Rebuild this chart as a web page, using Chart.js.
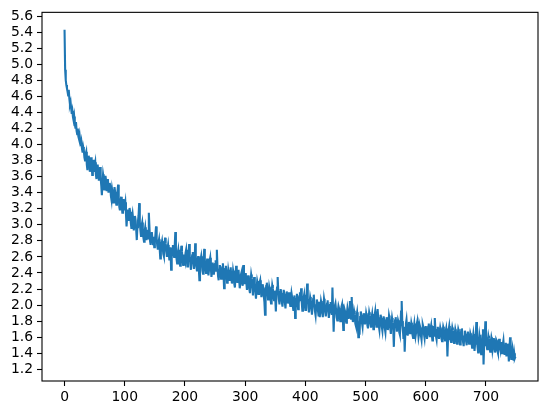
<!DOCTYPE html>
<html>
<head>
<meta charset="utf-8">
<script src="https://cdn.jsdelivr.net/npm/chart.js@4"></script>
<style>
  html, body { margin: 0; padding: 0; background: #fff; }
  canvas { display: block; }
</style>
</head>
<body>
<canvas id="chart" width="547" height="415"></canvas>
<script>
// loss values, one per step (0..749)
const lossValues = [
  5.43, 4.93, 4.80, 4.74, 4.70, 4.66, 4.61, 4.68, 4.57, 4.50, 4.53, 4.45, 4.38, 4.42, 4.34, 4.30, 4.35, 4.26, 4.21, 4.28, 4.17, 4.13, 4.20, 4.10, 4.07,
  4.12, 4.05, 3.98, 4.03, 3.95, 3.90, 3.97, 3.93, 3.84, 3.80, 3.88, 3.91, 3.75, 3.68, 3.79, 3.86, 3.82, 3.66, 3.72, 3.84, 3.77, 3.62, 3.70, 3.81, 3.67,
  3.74, 3.78, 3.63, 3.57, 3.69, 3.75, 3.66, 3.55, 3.60, 3.72, 3.58, 3.49, 3.37, 3.52, 3.63, 3.58, 3.44, 3.50, 3.61, 3.55, 3.42, 3.47, 3.57, 3.40, 3.46,
  3.52, 3.48, 3.36, 3.31, 3.44, 3.39, 3.28, 3.35, 3.47, 3.41, 3.30, 3.25, 3.37, 3.42, 3.50, 3.33, 3.22, 3.18, 3.29, 3.35, 3.24, 3.15, 3.26, 3.32, 3.19,
  3.23, 3.28, 3.14, 2.98, 3.10, 3.19, 3.13, 3.05, 3.21, 3.16, 3.03, 2.96, 3.09, 3.14, 3.07, 2.93, 3.01, 3.11, 3.06, 2.94, 2.81, 2.97, 3.05, 3.12, 3.27,
  3.04, 2.93, 2.86, 2.99, 3.03, 2.91, 2.84, 2.79, 2.92, 2.97, 2.88, 2.81, 2.90, 2.94, 2.83, 3.15, 2.98, 2.80, 2.75, 2.87, 2.91, 2.82, 2.76, 2.85, 2.72,
  2.79, 2.88, 2.98, 2.83, 2.74, 2.69, 2.78, 2.82, 2.71, 2.58, 2.66, 2.76, 2.80, 2.73, 2.64, 2.61, 2.72, 2.84, 2.77, 2.68, 2.60, 2.70, 2.75, 2.66, 2.57,
  2.63, 2.72, 2.44, 2.59, 2.70, 2.75, 2.66, 2.60, 2.73, 2.91, 2.71, 2.58, 2.52, 2.64, 2.69, 2.61, 2.53, 2.49, 2.62, 2.74, 2.67, 2.56, 2.50, 2.63, 2.58,
  2.55, 2.65, 2.69, 2.57, 2.48, 2.54, 2.63, 2.76, 2.59, 2.50, 2.44, 2.56, 2.62, 2.66, 2.53, 2.45, 2.52, 2.77, 2.60, 2.49, 2.42, 2.55, 2.61, 2.47, 2.31,
  2.49, 2.57, 2.61, 2.52, 2.43, 2.39, 2.54, 2.70, 2.56, 2.46, 2.40, 2.51, 2.58, 2.49, 2.37, 2.44, 2.55, 2.59, 2.47, 2.35, 2.42, 2.53, 2.48, 2.38, 2.45,
  2.51, 2.56, 2.43, 2.69, 2.48, 2.36, 2.31, 2.44, 2.50, 2.41, 2.33, 2.38, 2.47, 2.52, 2.40, 2.21, 2.35, 2.45, 2.49, 2.37, 2.28, 2.34, 2.44, 2.39, 2.30,
  2.42, 2.47, 2.35, 2.27, 2.31, 2.43, 2.38, 2.26, 2.22, 2.36, 2.49, 2.40, 2.29, 2.34, 2.44, 2.32, 2.21, 2.27, 2.38, 2.41, 2.30, 2.24, 2.50, 2.33, 2.26,
  2.35, 2.40, 2.28, 2.19, 2.25, 2.37, 2.31, 2.20, 2.15, 2.29, 2.38, 2.33, 2.22, 2.12, 2.27, 2.35, 2.24, 2.16, 2.08, 2.21, 2.30, 2.26, 2.14, 2.19, 2.28,
  2.31, 2.20, 2.10, 2.16, 2.26, 2.22, 2.11, 2.04, 1.88, 2.15, 2.24, 2.28, 2.17, 2.07, 2.13, 2.23, 2.19, 2.09, 2.02, 2.16, 2.25, 2.21, 2.10, 2.06, 2.18,
  2.09, 1.92, 2.14, 2.22, 2.35, 2.18, 2.07, 2.01, 2.13, 2.20, 2.15, 2.04, 1.98, 2.10, 2.19, 2.14, 2.03, 1.96, 2.09, 2.17, 2.12, 2.02, 2.08, 2.16, 2.05,
  1.99, 2.07, 2.15, 2.10, 2.00, 1.94, 2.06, 2.12, 1.84, 1.97, 2.08, 2.14, 2.03, 1.95, 2.02, 2.11, 2.16, 2.05, 2.21, 2.04, 1.93, 1.98, 2.09, 2.13, 2.00,
  1.94, 2.05, 2.11, 2.27, 2.08, 1.97, 1.91, 2.02, 2.10, 2.06, 1.95, 1.88, 2.00, 2.08, 2.13, 2.01, 1.92, 1.87, 1.99, 2.07, 2.03, 1.93, 1.86, 2.04, 1.85,
  1.96, 2.05, 2.01, 1.90, 1.85, 1.97, 2.08, 2.03, 1.92, 1.86, 1.95, 2.02, 2.06, 1.94, 1.84, 1.91, 2.00, 2.04, 1.93, 1.88, 2.22, 1.95, 1.67, 1.90, 1.99,
  2.02, 1.94, 1.85, 1.81, 1.93, 1.99, 1.96, 1.86, 1.80, 1.91, 1.98, 2.01, 1.89, 1.69, 1.84, 1.95, 1.92, 1.82, 1.78, 1.90, 1.97, 1.93, 1.83, 1.88, 2.05,
  1.92, 1.83, 2.10, 1.87, 1.79, 1.84, 1.93, 1.89, 1.77, 1.74, 1.86, 1.91, 1.82, 1.60, 1.80, 1.63, 1.85, 1.92, 1.88, 1.78, 1.73, 1.84, 1.90, 1.86, 1.76,
  1.81, 1.90, 1.86, 1.75, 1.71, 1.83, 1.91, 1.87, 1.77, 1.72, 1.84, 1.89, 1.80, 1.70, 1.76, 1.87, 1.92, 1.79, 1.73, 1.82, 1.95, 1.85, 1.74, 1.69, 1.81,
  1.88, 1.84, 1.73, 1.68, 1.79, 1.86, 1.82, 1.71, 1.66, 1.78, 1.85, 1.80, 1.69, 1.75, 1.87, 1.83, 1.72, 1.64, 1.76, 1.84, 1.79, 1.70, 1.48, 1.74, 1.81,
  1.85, 1.76, 1.67, 1.72, 1.81, 1.78, 1.66, 1.63, 1.75, 1.92, 2.05, 1.80, 1.69, 1.58, 1.73, 1.42, 1.64, 1.77, 1.82, 1.71, 1.62, 1.68, 1.79, 1.74, 1.65,
  1.70, 1.78, 1.74, 1.63, 1.59, 1.71, 1.77, 1.68, 1.61, 1.66, 1.76, 1.80, 1.69, 1.60, 1.65, 1.75, 1.72, 1.62, 1.57, 1.69, 1.76, 1.73, 1.64, 1.59, 1.70,
  1.74, 1.67, 1.58, 1.63, 1.73, 1.77, 1.66, 1.60, 1.71, 1.75, 1.64, 1.56, 1.68, 1.74, 1.62, 1.84, 1.70, 1.61, 1.57, 1.69, 1.73, 1.65, 1.58, 1.66, 1.72,
  1.68, 1.59, 1.55, 1.66, 1.73, 1.70, 1.60, 1.56, 1.67, 1.71, 1.62, 1.36, 1.58, 1.69, 1.74, 1.65, 1.57, 1.54, 1.66, 1.72, 1.68, 1.59, 1.53, 1.64, 1.70,
  1.66, 1.57, 1.52, 1.63, 1.70, 1.67, 1.58, 1.51, 1.62, 1.69, 1.71, 1.60, 1.54, 1.49, 1.61, 1.68, 1.64, 1.55, 1.50, 1.63, 1.67, 1.59, 1.52, 1.57, 1.65,
  1.62, 1.54, 1.47, 1.58, 1.64, 1.56, 1.43, 1.52, 1.61, 1.79, 1.59, 1.48, 1.41, 1.55, 1.63, 1.57, 1.46, 1.39, 1.53, 1.62, 1.70, 1.26, 1.50, 1.58, 1.80,
  1.61, 1.52, 1.45, 1.55, 1.62, 1.58, 1.47, 1.42, 1.54, 1.60, 1.56, 1.44, 1.49, 1.59, 1.53, 1.41, 1.46, 1.57, 1.55, 1.43, 1.40, 1.52, 1.58, 1.48, 1.44,
  1.54, 1.47, 1.40, 1.51, 1.56, 1.45, 1.38, 1.49, 1.53, 1.36, 1.44, 1.52, 1.46, 1.30, 1.42, 1.60, 1.48, 1.33, 1.39, 1.45, 1.37, 1.31, 1.40, 1.34, 1.36
];

const xTicks = [0, 100, 200, 300, 400, 500, 600, 700];
const yTicks = [1.2, 1.4, 1.6, 1.8, 2.0, 2.2, 2.4, 2.6, 2.8, 3.0, 3.2, 3.4, 3.6, 3.8, 4.0, 4.2, 4.4, 4.6, 4.8, 5.0, 5.2, 5.4, 5.6];

// matplotlib-style 5% margins
const xMin = -37.45, xMax = 786.45;
const yMin = 1.055, yMax = 5.646;

const points = lossValues.map((v, i) => ({ x: i, y: v }));

/* ---------- frame around the plot ---------- */
const framePlugin = {
  id: "frame",
  afterDraw(chart) {
    const { ctx, chartArea: a } = chart;
    ctx.save();
    ctx.strokeStyle = "#000";
    ctx.lineWidth = 1.1;
    ctx.strokeRect(a.left, a.top, a.right - a.left, a.bottom - a.top);
    ctx.restore();
  }
};

const tickFont = { family: "DejaVu Sans", size: 13.9 };

new Chart(document.getElementById("chart"), {
  type: "line",
  data: {
    datasets: [{
      data: points,
      borderColor: "#1f77b4",
      borderWidth: 2.1,
      pointRadius: 0,
      tension: 0,
      fill: false
    }]
  },
  options: {
    responsive: false,
    animation: false,
    events: [],
    layout: { padding: { top: 12, right: 9, left: 0, bottom: 0 } },
    plugins: { legend: { display: false }, tooltip: { enabled: false } },
    scales: {
      x: {
        type: "linear",
        min: xMin,
        max: xMax,
        afterFit: s => { s.height = 34; },
        afterBuildTicks: s => { s.ticks = xTicks.map(v => ({ value: v })); },
        border: { display: false },
        grid: { drawOnChartArea: false, drawTicks: true, tickLength: 5, color: "#000", tickWidth: 1.1 },
        ticks: { color: "#000", font: tickFont, padding: 3, maxRotation: 0, autoSkip: false }
      },
      y: {
        type: "linear",
        min: yMin,
        max: yMax,
        afterFit: s => { s.width = 42; },
        afterBuildTicks: s => { s.ticks = yTicks.map(v => ({ value: v })); },
        border: { display: false },
        grid: { drawOnChartArea: false, drawTicks: true, tickLength: 5, color: "#000", tickWidth: 1.1 },
        ticks: { color: "#000", font: tickFont, padding: 4, autoSkip: false, callback: v => v.toFixed(1) }
      }
    }
  },
  plugins: [framePlugin]
});
</script>
</body>
</html>
